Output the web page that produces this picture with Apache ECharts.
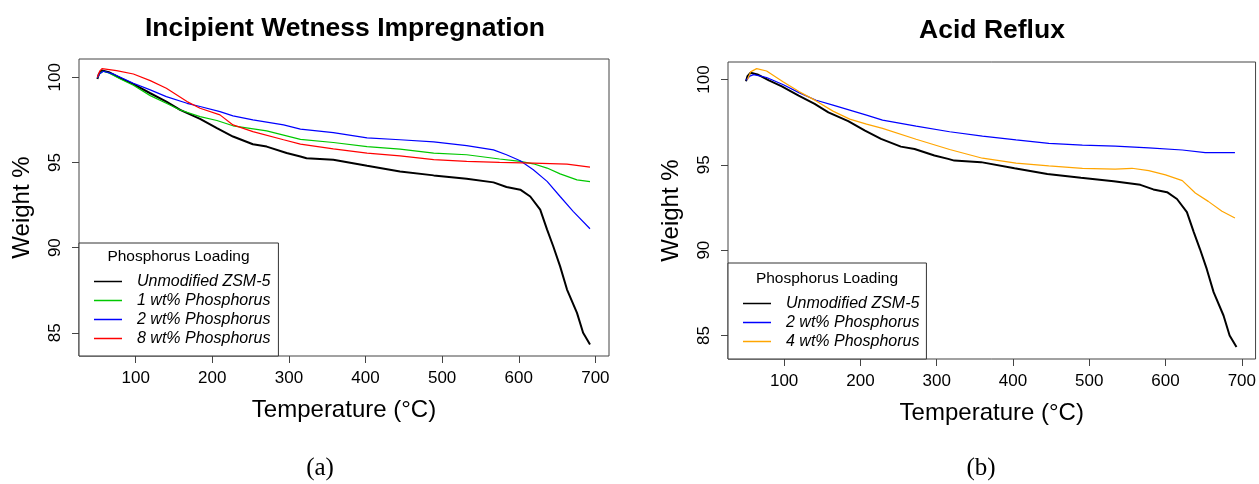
<!DOCTYPE html>
<html>
<head>
<meta charset="utf-8">
<script src="https://cdn.jsdelivr.net/npm/echarts@6/dist/echarts.min.js"></script>
<style>
  html, body { margin: 0; padding: 0; background: #fff; }
  #chart { width: 1259px; height: 484px; }
</style>
</head>
<body>
<div id="chart"></div>
<script>
// [temperature °C, weight %]
const unmodified = [[50,99.9],[52,100.2],[56,100.4],[65,100.3],[80,99.95],[97,99.6],[119,99.06],[140,98.57],[158,98.08],[184,97.56],[206,97.01],[227,96.52],[253,96.07],[271,95.93],[297,95.55],[315,95.35],[323,95.25],[358,95.16],[402,94.8],[445,94.47],[489,94.24],[532,94.04],[567,93.83],[584,93.56],[602,93.4],[615,93.0],[628,92.23],[637,91.06],[645,90.08],[654,88.9],[663,87.54],[676,86.17],[684,85.0],[693,84.32]];
const iwi1 = [[50,99.95],[53,100.2],[57,100.35],[65,100.25],[80,99.9],[97,99.53],[119,98.92],[140,98.47],[158,98.08],[184,97.69],[206,97.46],[227,97.15],[271,96.85],[315,96.35],[358,96.17],[402,95.93],[445,95.78],[489,95.55],[532,95.45],[575,95.2],[602,95.06],[619,94.92],[637,94.67],[654,94.33],[676,93.98],[693,93.87]];
const iwi2 = [[50,99.95],[53,100.2],[58,100.35],[70,100.2],[80,100.0],[97,99.65],[119,99.26],[140,98.86],[167,98.47],[184,98.28],[210,97.98],[227,97.73],[253,97.5],[293,97.2],[315,96.95],[358,96.75],[402,96.44],[445,96.33],[489,96.21],[532,95.99],[567,95.74],[584,95.45],[602,95.1],[619,94.57],[637,93.89],[654,93.0],[671,92.13],[693,91.11]];
const iwi8 = [[50,100.0],[53,100.35],[56,100.5],[75,100.39],[97,100.19],[119,99.8],[140,99.35],[167,98.57],[184,98.18],[210,97.79],[227,97.2],[253,96.81],[293,96.33],[315,96.07],[358,95.8],[402,95.55],[445,95.39],[489,95.16],[532,95.06],[575,95.0],[619,94.96],[663,94.9],[693,94.73]];
const ar2 = [[50,99.96],[55,100.2],[60,100.29],[77,100.12],[99,99.7],[120,99.22],[142,98.79],[164,98.5],[186,98.21],[208,97.92],[229,97.62],[273,97.27],[317,96.94],[360,96.69],[404,96.46],[447,96.26],[491,96.16],[534,96.1],[578,96.0],[622,95.87],[652,95.72],[691,95.72]];
const ar4 = [[52,100.0],[56,100.45],[64,100.64],[77,100.5],[99,99.86],[120,99.28],[142,98.75],[164,98.15],[186,97.68],[208,97.39],[229,97.14],[273,96.5],[317,95.9],[360,95.39],[404,95.1],[447,94.94],[491,94.8],[534,94.75],[556,94.8],[578,94.66],[600,94.41],[622,94.08],[639,93.35],[656,92.86],[674,92.28],[691,91.89]];

const xTicks = [100, 200, 300, 400, 500, 600, 700];
const yTicks = [85, 90, 95, 100];
const legendIWI = ['Unmodified ZSM-5', '1 wt% Phosphorus', '2 wt% Phosphorus', '8 wt% Phosphorus'];
const legendAR = ['Unmodified ZSM-5', '2 wt% Phosphorus', '4 wt% Phosphorus'];

const font = '"Liberation Sans", Arial, sans-serif';

function xAxis(idx, min, max) {
  return {
    gridIndex: idx, type: 'value', min: min, max: max,
    axisLine: { show: false }, splitLine: { show: false },
    axisTick: { show: true, length: 7, lineStyle: { color: '#444' }, customValues: xTicks },
    axisLabel: { customValues: xTicks, fontSize: 17, margin: 14, color: '#000', fontFamily: font },
    name: 'Temperature (°C)', nameLocation: 'middle', nameGap: 42,
    nameTextStyle: { fontSize: 24, color: '#000', fontFamily: font }
  };
}
function yAxis(idx, min, max) {
  return {
    gridIndex: idx, type: 'value', min: min, max: max,
    axisLine: { show: false }, splitLine: { show: false },
    axisTick: { show: true, length: 7, lineStyle: { color: '#444' }, customValues: yTicks },
    axisLabel: { customValues: yTicks, fontSize: 17, margin: 15, rotate: 90, color: '#000', fontFamily: font },
    name: 'Weight %', nameLocation: 'middle', nameGap: 45,
    nameTextStyle: { fontSize: 24, color: '#000', fontFamily: font }
  };
}
function line(name, data, color, width, idx) {
  return {
    name: name, type: 'line', data: data, xAxisIndex: idx, yAxisIndex: idx,
    symbol: 'none', color: color, itemStyle: { color: color },
    lineStyle: { color: color, width: width }
  };
}
function legend(names, left, bottom, padding) {
  return {
    data: names, orient: 'vertical', left: left, bottom: bottom,
    icon: 'rect', itemWidth: 28, itemHeight: 1.5, itemGap: 0,
    padding: padding, borderColor: '#333', borderWidth: 1, backgroundColor: '#fff',
    selectedMode: false,
    textStyle: { fontStyle: 'italic', fontSize: 16, lineHeight: 19, padding: [0, 0, 0, 10], color: '#000', fontFamily: font }
  };
}
function label(text, x, y, f) {
  return { type: 'text', x: x, y: y, z: 100,
    style: { text: text, font: f, fill: '#000', align: 'center', verticalAlign: 'middle' } };
}

const chart = echarts.init(document.getElementById('chart'));
chart.setOption({
  animation: false,
  grid: [
    { left: 79, top: 59, width: 530, height: 297, show: true, borderColor: '#444', borderWidth: 1 },
    { left: 728, top: 62, width: 529, height: 297, show: true, borderColor: '#444', borderWidth: 1 }
  ],
  xAxis: [xAxis(0, 26, 717.8), xAxis(1, 26.4, 718)],
  yAxis: [yAxis(0, 83.64, 101.07), yAxis(1, 83.62, 101.03)],
  legend: [
    legend(legendIWI, 79, 128, [29, 8, 8, 15]),
    legend(legendAR, 728, 125, [31, 7, 8, 15])
  ],
  series: [
    line('Unmodified ZSM-5', unmodified, '#000000', 2, 0),
    line('1 wt% Phosphorus', iwi1, '#00c800', 1.2, 0),
    line('2 wt% Phosphorus', iwi2, '#0000ff', 1.2, 0),
    line('8 wt% Phosphorus', iwi8, '#ff0000', 1.2, 0),
    line('Unmodified ZSM-5', unmodified, '#000000', 2, 1),
    line('2 wt% Phosphorus', ar2, '#0000ff', 1.2, 1),
    line('4 wt% Phosphorus', ar4, '#ffa500', 1.2, 1)
  ],
  graphic: [
    label('Incipient Wetness Impregnation', 345, 29, 'bold 26.5px ' + font),
    label('Acid Reflux', 992, 31, 'bold 26.5px ' + font),
    label('Phosphorus Loading', 178.5, 257, '15.5px ' + font),
    label('Phosphorus Loading', 827, 279, '15.5px ' + font),
    label('(a)', 320, 468, '25px "Liberation Serif", "Times New Roman", serif'),
    label('(b)', 981, 468, '25px "Liberation Serif", "Times New Roman", serif')
  ]
});
</script>
</body>
</html>
